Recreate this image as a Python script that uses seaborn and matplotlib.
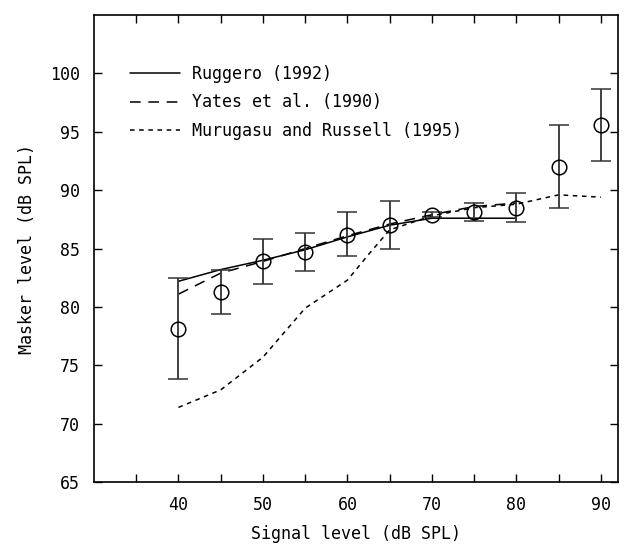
"""
Masker level vs signal level - data points with model curves.
"""

import numpy as np
import pandas as pd
import matplotlib
matplotlib.use("Agg")
import matplotlib.pyplot as plt
import seaborn as sns


# ──────────────────────────────────────────────
# Data
# ──────────────────────────────────────────────

signal_levels = [40, 45, 50, 55, 60, 65, 70, 75, 80, 85, 90]
masker_means = [78.1, 81.3, 83.9, 84.7, 86.2, 87.0, 87.9, 88.1, 88.5, 92.0, 95.6]
err_upper = [82.5, 83.2, 85.8, 86.3, 88.1, 89.1, 88.1, 88.9, 89.8, 95.6, 98.7]
err_lower = [73.8, 79.4, 82.0, 83.1, 84.4, 85.0, 87.7, 87.4, 87.3, 88.5, 92.5]

ruggero_x = [40, 45, 50, 55, 60, 65, 70, 80]
ruggero_y = [82.2, 83.2, 84.0, 84.9, 86.0, 87.0, 87.6, 87.6]

yates_x = [40, 45, 50, 55, 60, 65, 70, 75, 80]
yates_y = [81.1, 82.9, 83.9, 85.0, 86.1, 87.1, 87.9, 88.6, 88.9]

murugasu_x = [40, 45, 50, 55, 60, 62.5, 65, 70, 75, 80, 85, 90]
murugasu_y = [71.4, 72.9, 75.7, 79.9, 82.3, 84.5, 86.6, 87.8, 88.5, 88.8, 89.6, 89.4]

x_ticks = [40, 50, 60, 70, 80, 90]
y_ticks = [65, 70, 75, 80, 85, 90, 95, 100]


# ──────────────────────────────────────────────
# Style
# ──────────────────────────────────────────────

sns.set_style("ticks")
plt.rcParams["font.family"] = ["DejaVu Sans Mono", "DejaVu Sans"]
plt.rcParams["font.size"] = 12
for key in ["text.color", "axes.labelcolor", "xtick.color", "ytick.color",
            "axes.edgecolor"]:
    plt.rcParams[key] = "black"

fig = plt.figure(figsize=(6.33, 5.46), dpi=100)
ax = fig.add_axes([0.1485, 0.117, 0.8275, 0.8555])

curves = [
    ("Ruggero (1992)", ruggero_x, ruggero_y, (None, None)),
    ("Yates et al. (1990)", yates_x, yates_y, (7, 5)),
    ("Murugasu and Russell (1995)", murugasu_x, murugasu_y, (3, 3)),
]
for label, xs, ys, dash in curves:
    df = pd.DataFrame({"x": xs, "y": ys})
    line = sns.lineplot(data=df, x="x", y="y", ax=ax, color="black",
                        linewidth=1.1, label=label, sort=False)
    if dash[0] is not None:
        line.get_lines()[-1].set_dashes(dash)

yerr = np.array([np.array(masker_means) - np.array(err_lower),
                 np.array(err_upper) - np.array(masker_means)])
ax.errorbar(signal_levels, masker_means, yerr=yerr, fmt="o", mfc="none",
            mec="black", ms=10.5, mew=1.1, ecolor="#333333", elinewidth=1.3,
            capsize=7, capthick=1.3, zorder=5)

ax.set_xlim(30, 92)
ax.set_ylim(65, 105)
ax.set_xticks(x_ticks)
ax.set_xticks(np.arange(35, 91, 5), minor=True)
ax.set_yticks(y_ticks)
ax.tick_params(which="both", direction="in", top=True, right=True,
               length=6, width=1, labelsize=12, pad=10)
ax.tick_params(which="minor", length=6)
for s in ax.spines.values():
    s.set_linewidth(1.2)

ax.set_xlabel("Signal level (dB SPL)", fontsize=12, labelpad=8)
ax.set_ylabel("Masker level (dB SPL)", fontsize=12, labelpad=10)

leg = ax.legend(loc="upper left", bbox_to_anchor=(0.04, 0.925), frameon=False,
                handlelength=3.0, handletextpad=0.7, labelspacing=0.62,
                fontsize=12)

fig.savefig("out.png", dpi=100)
